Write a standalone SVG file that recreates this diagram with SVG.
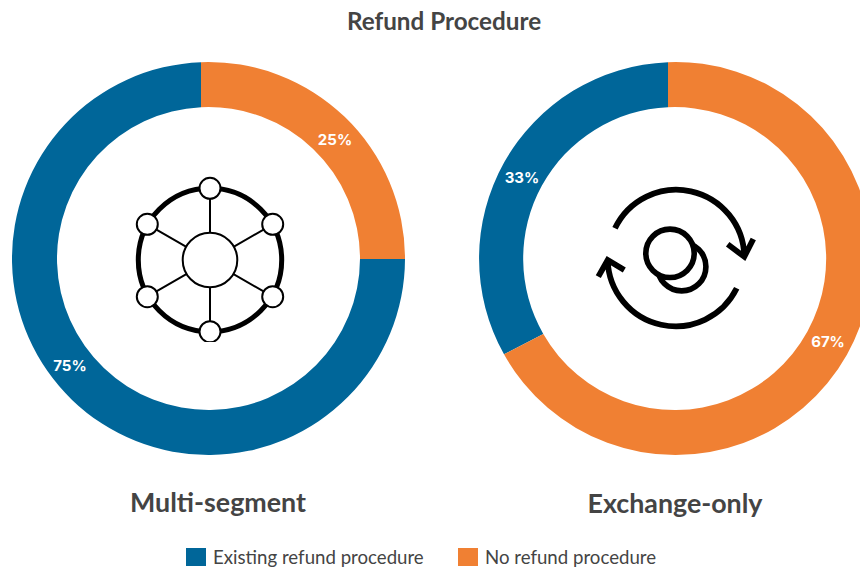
<svg xmlns="http://www.w3.org/2000/svg" width="860" height="569" viewBox="0 0 860 569">
<style>
text{font-family:Lato,"Liberation Sans",sans-serif;fill:#444}
.title{font-weight:700;font-size:24.25px;text-anchor:middle}
.sub{font-weight:700;font-size:26.8px;text-anchor:middle}
.leg{font-size:18.65px}
.pct{font-family:Inter,"Liberation Sans",sans-serif;font-weight:700;font-size:15px;fill:#fff;text-anchor:middle}
.bl{fill:#006699}
.or{fill:#f08033}
.ic{fill:#fff;stroke:#000}
.ln{fill:none;stroke:#000}
</style>
<defs><clipPath id="c1"><rect x="120" y="165" width="180" height="177"/></clipPath></defs>
<rect width="860" height="569" fill="#fff"/>
<text class="title" x="444" y="30">Refund Procedure</text>
<g id="donut-multi">
<path class="bl" d="M405,259A196.5,196.5 0 1 1 201,62.14L201,107.2A151.5,151.5 0 1 0 360,259Z"/>
<path class="or" d="M201,62.14A196.5,196.5 0 0 1 405,259L360,259A151.5,151.5 0 0 0 201,107.2Z"/>
<text class="pct" x="335" y="145">25%</text>
<text class="pct" x="70" y="371">75%</text>
</g>
<g id="icon-network" clip-path="url(#c1)">
<circle class="ln" cx="210" cy="260" r="71.7" stroke-width="5"/>
<path class="ln" stroke-width="2" d="M210,188V333M147.3,224.3L272.7,296.7M272.7,224.3L147.3,296.7"/>
<circle class="ic" stroke-width="2" cx="210" cy="260" r="27.3"/>
<g stroke-width="2">
<circle class="ic" cx="210" cy="188.3" r="10.5"/>
<circle class="ic" cx="147.3" cy="224.3" r="10.5"/>
<circle class="ic" cx="272.7" cy="224.3" r="10.5"/>
<circle class="ic" cx="147.3" cy="296.7" r="10.5"/>
<circle class="ic" cx="272.7" cy="296.7" r="10.5"/>
<circle class="ic" cx="210" cy="331.7" r="10.5"/>
</g>
</g>
<text class="sub" x="218" y="511.5">Multi-segment</text>
<g id="donut-exchange">
<path class="bl" d="M504,354.3A196.5,196.5 0 0 1 668,62.14L668,107.2A151.5,151.5 0 0 0 543.3,334Z"/>
<path class="or" d="M668,62.14A196.5,196.5 0 1 1 504,354.3L543.3,334A151.5,151.5 0 1 0 668,107.2Z"/>
<text class="pct" x="522" y="183">33%</text>
<text class="pct" x="828" y="347">67%</text>
</g>
<g id="icon-exchange">
<circle class="ln" stroke-width="5.6" cx="681.7" cy="266.7" r="24.2"/>
<circle class="ic" stroke-width="5.6" cx="670" cy="253.3" r="24.2"/>
<path class="ln" stroke-width="5.8" d="M615,228.3A68,68 0 0 1 744.3,256.7M727.7,244.3L744.3,256.7L753.3,239M736.7,288.3A68,68 0 0 1 607.7,260M598.3,276.7L607.7,260L624.3,270"/>
</g>
<text class="sub" x="675" y="513">Exchange-only</text>
<g id="legend">
<rect class="bl" x="186" y="548" width="20" height="18"/>
<text class="leg" x="213" y="563.5">Existing refund procedure</text>
<rect class="or" x="458" y="548" width="20" height="18"/>
<text class="leg" x="485" y="563.5">No refund procedure</text>
</g>
</svg>
